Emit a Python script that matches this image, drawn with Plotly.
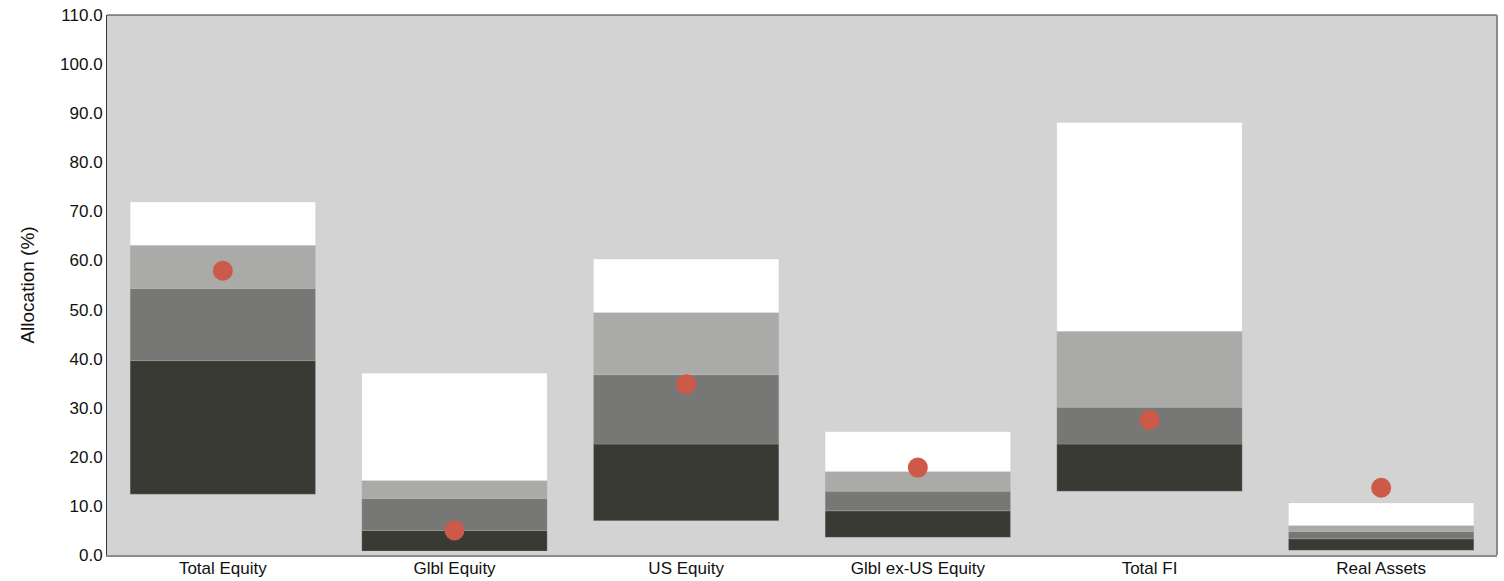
import plotly.graph_objects as go

# Asset classes and allocation percentile bands (%)
categories = ["Total Equity", "Glbl Equity", "US Equity", "Glbl ex-US Equity", "Total FI", "Real Assets"]
band_low = [12.4, 0.8, 7.0, 3.6, 13.0, 0.95]
band_p25 = [39.6, 5.0, 22.6, 9.0, 22.6, 3.3]
band_median = [54.3, 11.5, 36.7, 13.0, 30.1, 4.8]
band_p75 = [63.1, 15.2, 49.4, 17.0, 45.6, 6.0]
band_high = [71.9, 37.0, 60.3, 25.1, 88.1, 10.6]
portfolio = [57.9, 5.0, 34.8, 17.8, 27.5, 13.7]

y_ticks = [0, 10, 20, 30, 40, 50, 60, 70, 80, 90, 100, 110]

segments = [
    (band_low, band_p25, "#3a3a35"),
    (band_p25, band_median, "#777775"),
    (band_median, band_p75, "#aaaaa8"),
    (band_p75, band_high, "#ffffff"),
]

fig = go.Figure()
for lower, upper, color in segments:
    fig.add_trace(go.Bar(
        x=categories,
        y=[u - l for l, u in zip(lower, upper)],
        base=lower,
        width=0.8,
        marker=dict(color=color, line=dict(color="rgba(200,200,200,0.35)", width=0.6)),
        showlegend=False,
        hoverinfo="skip",
    ))

fig.add_trace(go.Scatter(
    x=categories,
    y=portfolio,
    mode="markers",
    marker=dict(color="#cd5a48", size=20, line=dict(width=0)),
    showlegend=False,
))

fig.update_layout(
    width=1504,
    height=581,
    margin=dict(l=107, r=7, t=15, b=26),
    paper_bgcolor="#ffffff",
    plot_bgcolor="#d3d3d3",
    barmode="overlay",
    font=dict(family="Liberation Sans, Arial, sans-serif", color="#222222", size=17),
    xaxis=dict(
        automargin=False,
        showgrid=False,
        showline=True,
        linecolor="#8c8c8c",
        linewidth=2,
        ticks="",
        ticklen=0,
        ticklabelstandoff=-3,
        tickfont=dict(size=17, color="#111111"),
        fixedrange=True,
    ),
    yaxis=dict(
        automargin=False,
        range=[0, 110],
        tickvals=y_ticks,
        tickformat=".1f",
        showgrid=False,
        zeroline=False,
        showline=True,
        linecolor="#333333",
        linewidth=1,
        ticks="",
        tickfont=dict(size=17, color="#111111"),
        title=dict(text="Allocation (%)", font=dict(size=19, color="#111111"), standoff=20),
    ),
    shapes=[
        dict(type="line", xref="paper", yref="paper", x0=0, x1=1, y0=1, y1=1,
             line=dict(color="#333333", width=1)),
        dict(type="line", xref="paper", yref="paper", x0=1, x1=1, y0=0, y1=1,
             line=dict(color="#8c8c8c", width=2)),
    ],
)

fig.write_html("out.html")
